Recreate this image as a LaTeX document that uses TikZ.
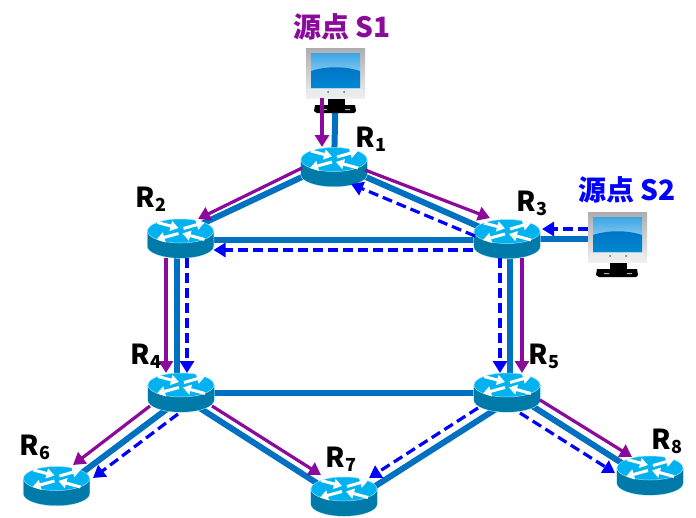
\documentclass[tikz,border=0pt]{standalone}
\usepackage{fontspec}
\setmainfont{Noto Sans CJK SC}[BoldFont={* Black}]
\usetikzlibrary{arrows.meta,calc,shadings}
\definecolor{linkc}{HTML}{0070C0}
\definecolor{purp}{HTML}{8B0A9B}
\definecolor{dblue}{HTML}{0000FF}
\definecolor{rbody}{RGB}{0,122,168}
\definecolor{rtop}{RGB}{0,178,240}
\definecolor{scrtop}{RGB}{60,165,230}
\definecolor{scrmid}{RGB}{190,228,248}
\definecolor{scrlow}{RGB}{0,115,200}
\tikzset{
  x=1pt,y=-1pt,
  linkl/.style={draw=linkc,line width=6pt},
  parr/.style={draw=purp,line width=3.2pt,-{Triangle[length=12pt,width=14pt]}},
  darr/.style={draw=dblue,line width=3.2pt,dash pattern=on 10pt off 5pt,-{Triangle[length=12pt,width=14pt]}},
  rnode/.style={minimum width=66pt,minimum height=39pt,inner sep=0pt,outer sep=0pt},
  snode/.style={minimum width=60pt,minimum height=65pt,inner sep=0pt,outer sep=0pt},
  rlabel/.style={font=\bfseries\fontsize{27.5}{28}\selectfont,inner sep=0pt,text=black},
  slabel/.style={font=\bfseries\fontsize{28}{28}\selectfont,inner sep=0pt},
  wa/.style={draw=white,line width=3pt,-{Triangle[length=8pt,width=10pt]}},
  router/.pic={
    \fill[cyan!35] (-33.6,-7.5) -- (-33.6,7.5) arc[start angle=180,end angle=360,x radius=33.6pt,y radius=12.6pt] -- (33.6,-7.5) -- cycle;
    \fill[rbody] (-33,-7.5) -- (-33,7.5) arc[start angle=180,end angle=360,x radius=33pt,y radius=12pt] -- (33,-7.5) -- cycle;
    \fill[rtop,draw=cyan!40,line width=.5pt] (0,-7.5) ellipse[x radius=33pt,y radius=12pt];
    \begin{scope}[shift={(0,-7.5)}]
      \draw[wa] (-23,-8.5) -- (-2,-3);
      \draw[wa] (3,-2.5) -- (24,-8.5);
      \draw[wa] (-2,2.5) -- (-24,8.5);
      \draw[wa] (24,8.5) -- (2,2.5);
    \end{scope}
  },
  monitor/.pic={
    \fill[black] (-8,17) rectangle (9,27);
    \fill[black] (-21,25) -- (19,25) -- (20,31) -- (18,33) -- (-19,33) -- (-22,31) -- cycle;
    \fill[white!70!black] (-14,29) rectangle (-9,30) (9,29) rectangle (14,30);
    \shade[top color=black!32,bottom color=black!6] (-30,-32) rectangle (29,18);
    \fill[black!8] (-28,9) rectangle (27,16);
    \shade[top color=scrtop,bottom color=scrmid] (-25,-27) rectangle (24,8);
    \shade[top color=scrlow,bottom color=scrlow!85!cyan] (-25,-9) .. controls (-10,-14) and (9,-14) .. (24,-9) -- (24,8) -- (-25,8) -- cycle;
    \fill[black!60] (-8,12) circle (1pt) (8,12) circle (1pt);
  }
}
\begin{document}
\begin{tikzpicture}
\useasboundingbox (0,0) rectangle (696,517);
\node[rnode] (r1) at (334,167) {};
\node[rnode] (r2) at (180.5,238.5) {};
\node[rnode] (r3) at (507,239) {};
\node[rnode] (r4) at (181,392.5) {};
\node[rnode] (r5) at (507,392.5) {};
\node[rnode] (r6) at (56.5,486) {};
\node[rnode] (r7) at (344,496.5) {};
\node[rnode] (r8) at (650,475.5) {};
\node[snode] (s1) at (336,80) {};
\node[snode] (s2) at (618,244) {};
% links
\draw[linkl] ($(r1)+(0,-5)$) -- ($(r2)+(0,-4.5)$);
\draw[linkl] ($(r1)+(0,-4)$) -- ($(r3)+(0,0)$);
\draw[linkl] ($(r2)+(0,1.5)$) -- ($(r3)+(0,1)$);
\draw[linkl] ($(r2)+(-3.5,0)$) -- ($(r4)+(-4,0)$);
\draw[linkl] ($(r3)+(3,0)$) -- ($(r5)+(3,0)$);
\draw[linkl] (r4.center) -- (r5.center);
\draw[linkl] ($(r4)+(0,6)$) -- ($(r6)+(0,6)$);
\draw[linkl] ($(r4)+(0,3.5)$) -- ($(r7)+(0,4)$);
\draw[linkl] ($(r5)+(0,9.5)$) -- ($(r7)+(0,9.5)$);
\draw[linkl] ($(r5)+(0,-2.5)$) -- ($(r8)+(0,5.5)$);
\draw[linkl] (s1.center) -- (r1.center);
\draw[linkl] ($(s2)+(0,-5)$) -- ($(r3)+(0,0)$);
% devices
\foreach \n in {r1,r2,r3,r4,r5,r6,r7,r8}
  \pic at (\n.center) {router};
\pic at (s1.center) {monitor};
\pic at (s2.center) {monitor};
% arrows
\draw[parr] ($(s1)+(-14,18)$) -- ($(r1)+(-12,-20)$);
\draw[parr] ($(r1)+(-32,1)$) -- ($(r2)+(17.5,-19.5)$);
\draw[parr] ($(r1)+(31,3)$) -- ($(r3)+(-17,-21)$);
\draw[parr] ($(r2)+(-14.5,19.5)$) -- ($(r4)+(-15,-19.5)$);
\draw[parr] ($(r3)+(15,19)$) -- ($(r5)+(15,-19.5)$);
\draw[parr] ($(r4)+(-31,13.5)$) -- ($(r6)+(16.5,-21)$);
\draw[parr] ($(r4)+(31,13.5)$) -- ($(r7)+(-23,-21.5)$);
\draw[parr] ($(r5)+(33,7.5)$) -- ($(r8)+(-18,-18.5)$);
\draw[darr] ($(r3)+(-32,-3)$) -- ($(r1)+(17,17)$);
\draw[darr] ($(r3)+(-34,11)$) -- ($(r2)+(33,11.5)$);
\draw[darr] ($(s2)+(-30,-15)$) -- ($(r3)+(35,-10)$);
\draw[darr] ($(r2)+(6.5,19.5)$) -- ($(r4)+(6,-19.5)$);
\draw[darr] ($(r3)+(-7,19)$) -- ($(r5)+(-7,-19.5)$);
\draw[darr] ($(r4)+(-3,21.5)$) -- ($(r6)+(36.5,-8)$);
\draw[darr] ($(r5)+(-29,15.5)$) -- ($(r7)+(25,-18.5)$);
\draw[darr] ($(r5)+(13,20.5)$) -- ($(r8)+(-35,-2.5)$);
% labels
\newcommand{\rl}[1]{R{\fontsize{18}{18}\selectfont\raisebox{-4pt}{#1}}}
\node[rlabel] (l1) at (371,139) {\rl{1}};
\node[rlabel] (l2) at (151,199) {\rl{2}};
\node[rlabel] (l3) at (532,203) {\rl{3}};
\node[rlabel] (l4) at (146,356) {\rl{4}};
\node[rlabel] (l5) at (544,356) {\rl{5}};
\node[rlabel] (l6) at (35,447) {\rl{6}};
\node[rlabel] (l7) at (341,459) {\rl{7}};
\node[rlabel] (l8) at (667,441) {\rl{8}};
\node[slabel,text=purp] (t1) at (342,27) {源点 S1};
\node[slabel,text=dblue] (t2) at (627,190) {源点 S2};
\end{tikzpicture}
\end{document}
